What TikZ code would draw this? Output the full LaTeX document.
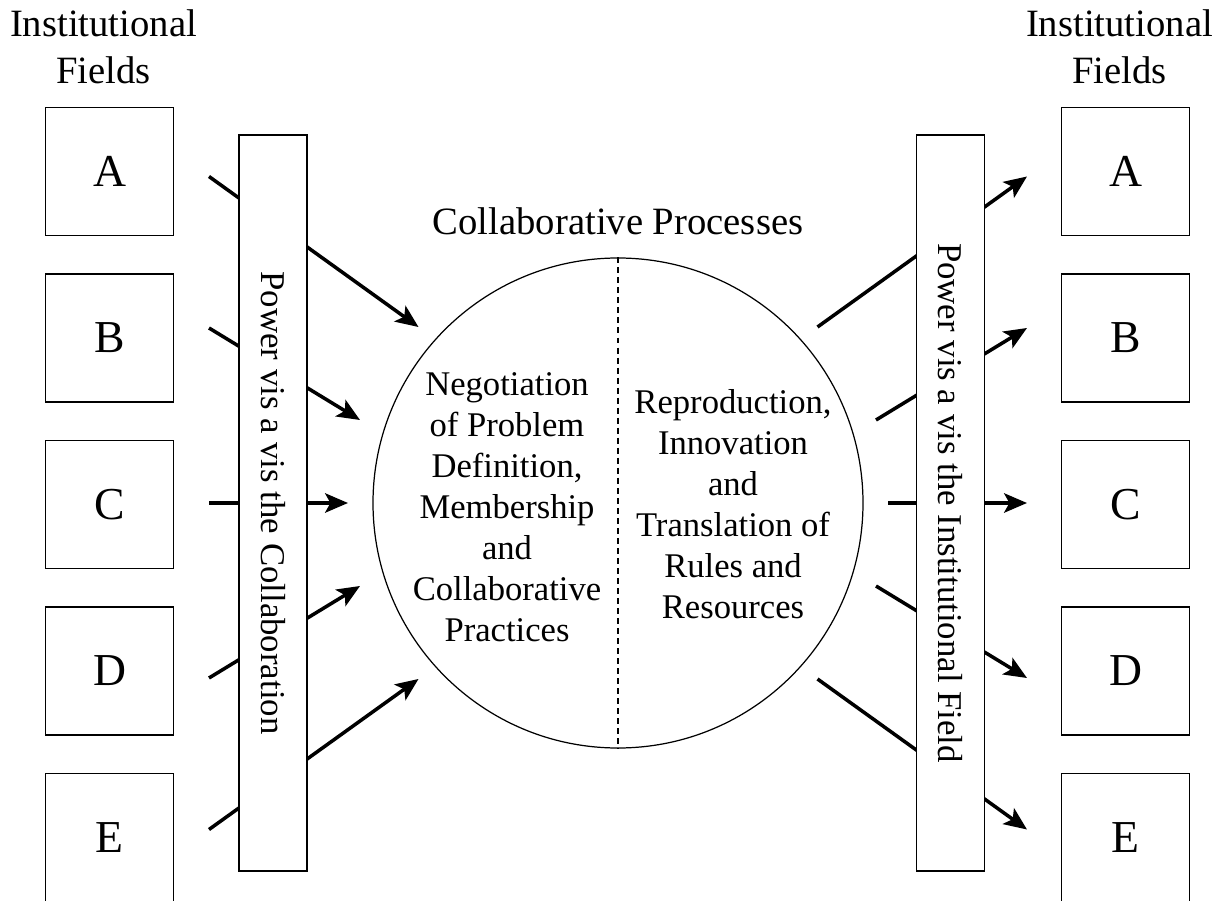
\documentclass[tikz,border=0pt]{standalone}
\usepackage{fontspec}
\setmainfont{Liberation Serif}
\usetikzlibrary{arrows.meta}

\tikzstyle{fieldbox}=[draw, line width=1.1pt, minimum size=2.56cm, font=\fontsize{26}{30}\selectfont]
\tikzstyle{powerbar}=[draw, fill=white, line width=1.1pt, minimum width=14.72cm, minimum height=1.36cm, rotate=-90, font=\fontsize{19.8}{24}\selectfont]
\tikzstyle{flow}=[-{Stealth[length=13pt, width=11pt, inset=3pt]}, line width=2pt]
\tikzstyle{heading}=[align=center, inner sep=0pt, font=\fontsize{22}{26.6}\selectfont]
\tikzstyle{proctext}=[align=center, inner sep=0pt, font=\fontsize{19.7}{23.3}\selectfont]

\begin{document}
\begin{tikzpicture}
      \useasboundingbox (0,0) rectangle (24.5,18);
      \foreach \f [count=\i] in {A, B, C, D, E} {%
        \node[fieldbox] (L\f) at (2.19, 17.9-3.33*\i) {\f};
        \node[fieldbox] (R\f) at (22.51, 17.9-3.33*\i) {\f};
      }
      \node[heading] (ltitle) at (2.07, 17.07) {Institutional\\Fields};
      \node[heading] (rtitle) at (22.39, 17.07) {Institutional\\Fields};

      \node[draw, circle, line width=0.7pt, minimum size=9.8cm] (proc) at (12.36, 7.94) {};
      \node[heading, anchor=base] (ptitle) at (12.36, 13.3) {Collaborative Processes};
      \draw[line width=1.1pt, dash pattern=on 3.4pt off 2.3pt] (proc.north) -- (proc.south);
      \node[proctext] (neg) at (10.14, 7.85) {Negotiation\\of Problem\\Definition,\\Membership\\and\\Collaborative\\Practices};
      \node[proctext] (rep) at (14.66, 7.92) {Reproduction,\\Innovation\\and\\Translation of\\Rules and\\Resources};

      \foreach \f/\ys/\xt/\yt in {A/14.47/8.37/11.46, B/11.44/7.2/9.6, C/7.94/6.96/7.94, D/4.44/7.2/6.28, E/1.41/8.37/4.42} {%
        \coordinate (in\f) at (4.18, \ys);
        \coordinate (to\f) at (\xt, \yt);
        \coordinate (from\f) at (24.72-\xt, \yt);
        \coordinate (out\f) at (20.54, \ys);
        \draw[flow] (in\f) -- (to\f);
        \draw[flow] (from\f) -- (out\f);
      }

      \node[powerbar] (lbar) at (5.46, 7.94) {Power vis a vis the Collaboration};
      \node[powerbar] (rbar) at (19.01, 7.94) {Power vis a vis the Institutional Field};
    \end{tikzpicture}
\end{document}
